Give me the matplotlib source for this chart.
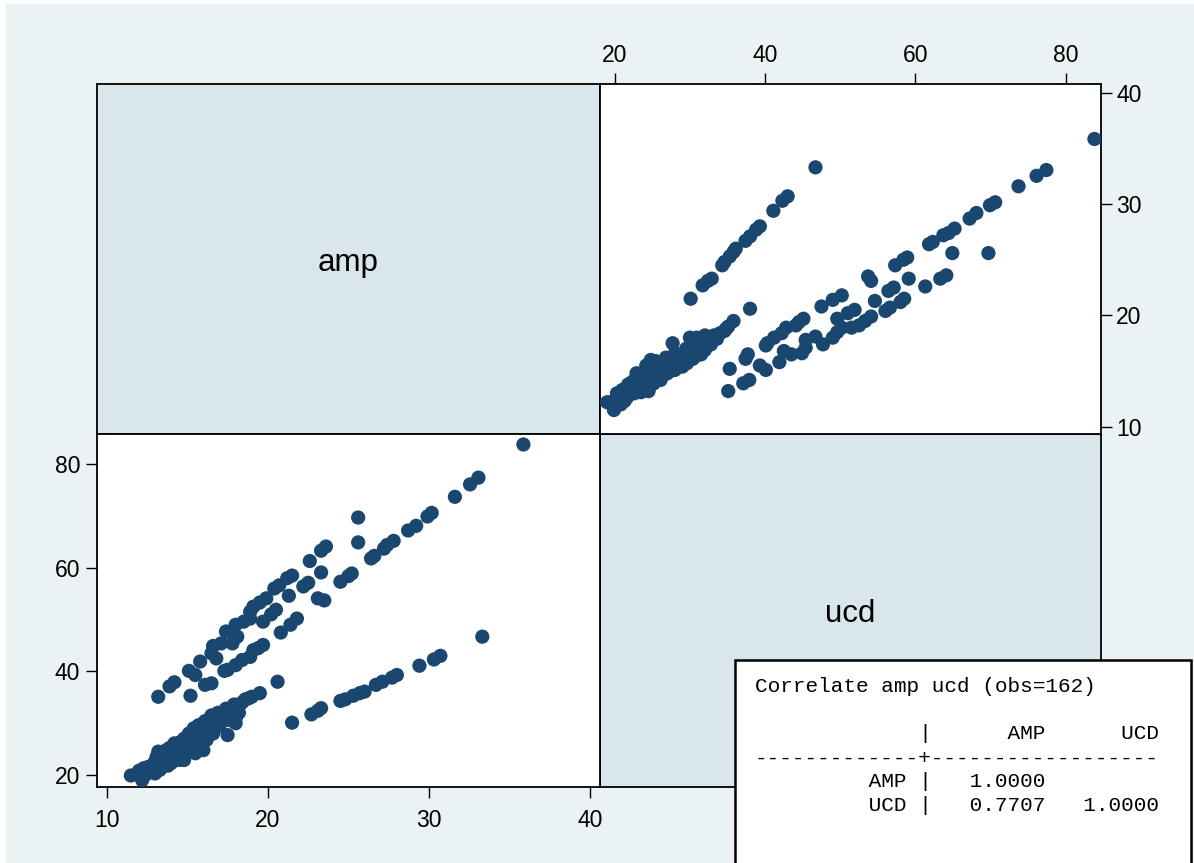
import matplotlib
matplotlib.use("Agg")
import matplotlib.pyplot as plt
from matplotlib.patches import Rectangle

amp = [35.85, 33.06, 32.54, 31.6, 30.16, 29.9, 29.2, 28.7, 27.8, 27.4,
       27.2, 26.6, 26.4, 25.6, 25.6, 25.2, 25.0, 24.5, 23.6, 23.3,
       22.6, 23.3, 22.5, 22.2, 23.5, 23.1, 21.5, 21.2, 20.7, 20.4,
       19.9, 19.5, 19.1, 18.9, 18.9, 18.5, 18.0, 17.4, 18.1, 17.8,
       17.1, 16.6, 16.5, 16.8, 15.8, 15.1, 15.5, 14.2, 13.9, 13.2,
       15.2, 16.1, 16.5,
       21.3, 21.8, 21.4, 20.8, 20.5, 20.2, 19.7, 19.7, 19.4, 19.1,
       18.9, 18.4, 18.0, 17.5, 17.3,
       33.3, 30.7, 30.3, 29.4, 28.0, 27.7, 27.1, 26.7, 26.0, 25.7,
       25.3, 24.8, 24.5, 23.3, 23.1, 22.7, 21.5,
       11.5, 12.2, 12.3, 12.6, 13.0, 13.3, 13.2, 13.7, 14.0, 14.2,
       14.5, 14.8, 15.0, 15.2, 15.5, 15.4, 15.8, 16.0, 16.2, 16.3,
       16.4, 16.8, 17.2, 17.5, 17.8, 18.0, 18.0, 18.2, 18.6, 19.0,
       19.5, 20.6,
       12.0, 12.4, 12.8, 13.0, 13.1, 13.3, 13.5, 13.6, 13.8, 13.9,
       14.0, 14.1, 14.3, 14.4, 14.5, 14.6, 14.7, 14.8, 14.9, 15.0,
       15.1, 15.2, 15.3, 15.4, 15.5, 15.6, 15.7, 15.8, 15.9, 16.0,
       16.1, 16.2, 16.3, 16.5, 16.6, 16.7, 16.9, 17.0, 17.2, 17.4,
       17.6, 17.9, 18.2, 18.4, 18.8]
ucd = [83.8, 77.4, 76.1, 73.7, 70.6, 69.9, 68.1, 67.2, 65.2, 64.4,
       63.7, 62.3, 61.8, 69.7, 64.9, 58.9, 58.4, 57.3, 64.1, 63.3,
       61.3, 59.1, 57.1, 56.4, 53.7, 54.1, 58.5, 58.0, 56.6, 56.0,
       54.1, 53.3, 52.5, 51.5, 50.2, 49.6, 49.0, 47.7, 46.7, 45.4,
       45.4, 44.9, 43.5, 42.5, 41.9, 40.1, 39.3, 37.9, 37.1, 35.1,
       35.3, 37.4, 37.7,
       54.6, 50.2, 49.0, 47.5, 51.9, 51.0, 49.6, 45.1, 44.5, 44.1,
       42.8, 42.2, 41.2, 40.3, 40.1,
       46.7, 43.0, 42.3, 41.1, 39.3, 38.8, 38.0, 37.4, 36.1, 35.8,
       35.3, 34.6, 34.3, 32.9, 32.4, 31.7, 30.1,
       19.9, 19.0, 21.3, 21.6, 20.3, 21.0, 24.5, 24.8, 22.3, 26.1,
       22.9, 22.9, 27.4, 24.8, 24.2, 29.0, 29.3, 24.8, 30.0, 28.4,
       30.9, 31.3, 31.9, 27.7, 32.5, 30.0, 30.9, 33.2, 34.6, 35.1,
       35.8, 38.0,
       20.8, 20.0, 21.5, 22.6, 23.5, 22.0, 23.2, 24.0, 21.8, 25.2,
       23.6, 24.6, 25.8, 23.0, 24.2, 26.4, 25.1, 27.0, 24.0, 25.9,
       28.0, 26.6, 24.5, 27.4, 28.6, 26.0, 29.6, 27.2, 25.4, 28.3,
       30.4, 26.8, 29.2, 31.5, 28.0, 30.2, 32.0, 29.5, 31.0, 32.8,
       30.6, 33.6, 32.0, 34.0, 34.8]

amp_ticks = [10, 20, 30, 40]
ucd_ticks = [20, 40, 60, 80]
ucd_ticks_top = [20, 40, 60, 80]

corr_lines = [
    "Correlate amp ucd (obs=162)",
    "             |      AMP      UCD",
    "-------------+------------------",
    "         AMP |   1.0000",
    "         UCD |   0.7707   1.0000",
]

W, H = 1194, 863
DOT = "#1a476f"
OUTER = "#eaf2f3"
DIAG = "#d9e6eb"


def panel(fig, x0, y0, x1, y1):
    ax = fig.add_axes([x0 / W, 1 - y1 / H, (x1 - x0) / W, (y1 - y0) / H])
    for s in ax.spines.values():
        s.set_linewidth(1.3)
        s.set_color("black")
    ax.tick_params(length=8, width=1, labelsize=16.5, direction="out")
    return ax


def main():
    plt.rcParams["font.family"] = ["Liberation Sans", "DejaVu Sans"]

    fig = plt.figure(figsize=(W / 100, H / 100), dpi=100)
    fig.patch.set_facecolor("white")
    fig.patches.append(Rectangle((6 / W, 0), (1193 - 6) / W, (H - 4) / H,
                                 transform=fig.transFigure, color=OUTER, zorder=-10))

    # diagonal label panels
    ax = panel(fig, 97, 84, 599.5, 434.5)
    ax.set_facecolor(DIAG)
    ax.set_xticks([]); ax.set_yticks([])
    ax.text(0.5, 0.49, "amp", transform=ax.transAxes, ha="center", va="center", fontsize=22.5)

    ax = panel(fig, 599.5, 434.5, 1101, 787)
    ax.set_facecolor(DIAG)
    ax.set_xticks([]); ax.set_yticks([])
    ax.text(0.5, 0.49, "ucd", transform=ax.transAxes, ha="center", va="center", fontsize=22.5)

    # top right: x = ucd, y = amp
    ax = panel(fig, 599.5, 84, 1101, 434.5)
    ax.scatter(ucd, amp, s=105, color=DOT, edgecolors="none", zorder=3)
    ax.set_xlim(17.98, 84.67)
    ax.set_ylim(9.30, 40.79)
    ax.xaxis.tick_top()
    ax.yaxis.tick_right()
    ax.set_xticks(ucd_ticks_top)
    ax.set_yticks(amp_ticks)
    ax.tick_params(axis="x", pad=4)
    ax.tick_params(axis="y", pad=3)

    # bottom left: x = amp, y = ucd
    ax = panel(fig, 97, 434.5, 599.5, 787)
    ax.scatter(amp, ucd, s=105, color=DOT, edgecolors="none", zorder=3)
    ax.set_xlim(9.40, 40.57)
    ax.set_ylim(17.68, 85.73)
    ax.set_xticks(amp_ticks)
    ax.set_yticks(ucd_ticks)
    ax.tick_params(axis="x", pad=8)
    ax.tick_params(axis="y", pad=4)

    # correlation output box
    fig.patches.append(Rectangle((735 / W, -0.01), (1191 - 735) / W, 0.01 + (H - 660) / H,
                                 transform=fig.transFigure, facecolor="white",
                                 edgecolor="black", linewidth=1.8, zorder=5))
    ys = [692, 739, 764, 787, 811]
    for line, y in zip(corr_lines, ys):
        fig.text(755 / W, 1 - y / H, line, fontsize=15.1, va="baseline", ha="left",
                 family=["Liberation Mono", "DejaVu Sans Mono"], zorder=6)

    fig.savefig("out.png", dpi=100)


if __name__ == "__main__":
    main()
